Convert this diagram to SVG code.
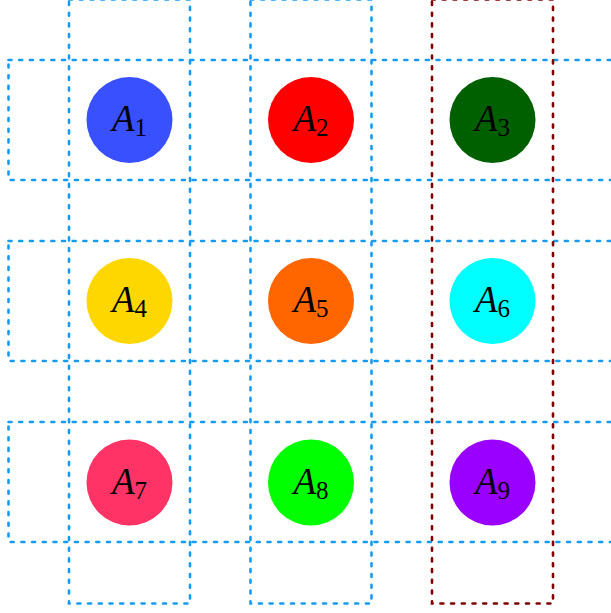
<svg xmlns="http://www.w3.org/2000/svg" width="611" height="613" viewBox="0 0 611 613">
<style>
.b{fill:none;stroke:#159cf2;stroke-width:2.6;stroke-dasharray:3 7.7;stroke-linecap:round}
.r{fill:none;stroke:#7f0000;stroke-width:2.6;stroke-dasharray:3 7.7;stroke-linecap:round}
.t{font-family:"Liberation Serif","Times New Roman",serif;font-size:37px;fill:#000;text-anchor:middle}
.t tspan.m{font-style:italic}
.t tspan.s{font-size:25px;font-style:normal}
</style>
<rect width="611" height="613" fill="#fff"/>
<g id="frames">
<rect class="b" x="8.5" y="60" width="606" height="120"/>
<rect class="b" x="8.5" y="241" width="606" height="120"/>
<rect class="b" x="8.5" y="422" width="606" height="120"/>
<rect class="b" x="69" y="-0.5" width="121" height="604"/>
<rect class="b" x="250.5" y="-0.5" width="121" height="604"/>
<rect class="r" x="432" y="-0.5" width="121" height="604"/>
</g>
<g id="A1"><circle cx="129.5" cy="120" r="43" fill="#3850ff"/><text class="t" x="129.5" y="131"><tspan class="m">A</tspan><tspan class="s" dy="5">1</tspan></text></g>
<g id="A2"><circle cx="311" cy="120" r="43" fill="#ff0000"/><text class="t" x="311" y="131"><tspan class="m">A</tspan><tspan class="s" dy="5">2</tspan></text></g>
<g id="A3"><circle cx="492.5" cy="120" r="43" fill="#006000"/><text class="t" x="492.5" y="131"><tspan class="m">A</tspan><tspan class="s" dy="5">3</tspan></text></g>
<g id="A4"><circle cx="129.5" cy="301" r="43" fill="#ffd700"/><text class="t" x="129.5" y="312"><tspan class="m">A</tspan><tspan class="s" dy="5">4</tspan></text></g>
<g id="A5"><circle cx="311" cy="301" r="43" fill="#ff6600"/><text class="t" x="311" y="312"><tspan class="m">A</tspan><tspan class="s" dy="5">5</tspan></text></g>
<g id="A6"><circle cx="492.5" cy="301" r="43" fill="#00ffff"/><text class="t" x="492.5" y="312"><tspan class="m">A</tspan><tspan class="s" dy="5">6</tspan></text></g>
<g id="A7"><circle cx="129.5" cy="482.5" r="43" fill="#ff3366"/><text class="t" x="129.5" y="493.5"><tspan class="m">A</tspan><tspan class="s" dy="5">7</tspan></text></g>
<g id="A8"><circle cx="311" cy="482.5" r="43" fill="#00ff00"/><text class="t" x="311" y="493.5"><tspan class="m">A</tspan><tspan class="s" dy="5">8</tspan></text></g>
<g id="A9"><circle cx="492.5" cy="482.5" r="43" fill="#9900ff"/><text class="t" x="492.5" y="493.5"><tspan class="m">A</tspan><tspan class="s" dy="5">9</tspan></text></g>
</svg>
